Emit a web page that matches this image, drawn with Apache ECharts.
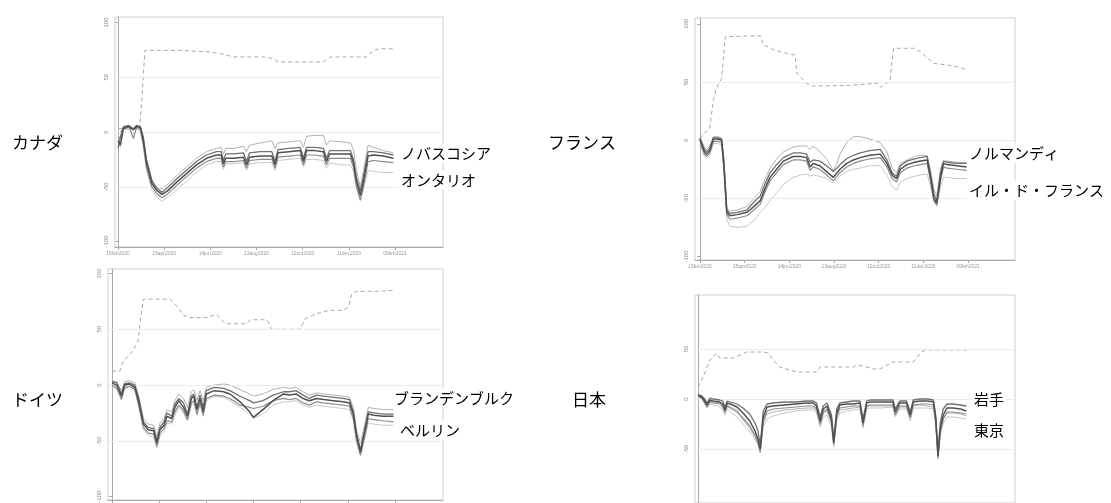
<!DOCTYPE html>
<html><head><meta charset="utf-8">
<script src="https://cdn.jsdelivr.net/npm/echarts@6/dist/echarts.min.js"></script>
<style>html,body{margin:0;padding:0;background:#fff}#c{width:1111px;height:503px}</style>
</head><body><div id="c"></div>
<script>
// ---- tick labels ----
const xTickValues = [0, 60, 120, 180, 240, 300, 360];
const xTickLabels = ['15feb2020', '15apr2020', '14jun2020', '13aug2020', '12oct2020', '11dec2020', '09feb2021'];
const yTickValues = [-100, -50, 0, 50, 100];
const yTickValuesJapan = [-50, 0, 50];
const gridLineValues = [-50, 0, 50];

// ---- Canada ----
const canDays = [0,3,7,14,20,24,29,33,37,44,50,57,64,76,89,102,115,128,134,137,140,150,163,167,171,185,200,204,208,222,237,241,245,256,267,271,275,290,302,306,310,315,319,325,332,345,358];
const can1 = [-8,-12,3,5,2,5,4,-8,-28,-47,-53,-57,-54,-46,-38,-30,-24,-21,-21,-29,-24,-24,-23,-30,-23,-22,-22,-30,-19,-18,-17,-27,-17,-17,-18,-27,-20,-20,-20,-28,-45,-58,-45,-22,-21,-22,-24];
const can2 = [-4,-6,4,6,-6,4,3,-12,-32,-50,-56,-60,-57,-49,-41,-33,-27,-24,-24,-32,-27,-27,-26,-33,-26,-25,-25,-33,-23,-22,-21,-30,-21,-21,-22,-30,-24,-24,-24,-32,-50,-62,-50,-27,-26,-27,-28];
const can3 = [-15,-5,5,6,3,6,5,-5,-25,-44,-51,-55,-51,-43,-35,-27,-21,-18,-18,-26,-20,-20,-19,-27,-19,-18,-18,-27,-16,-15,-14,-24,-14,-14,-15,-24,-17,-17,-17,-25,-42,-54,-41,-18,-18,-19,-21];
const can4 = [-2,0,4,4,3,4,2,-10,-30,-46,-50,-52,-48,-40,-32,-24,-18,-15,-14,-20,-15,-15,-13,-18,-12,-10,-8,-15,-10,-9,-8,-14,-4,-3,-3,-12,-8,-9,-10,-16,-35,-50,-35,-12,-14,-17,-19];
const can5 = [-10,-14,2,3,-2,3,1,-14,-35,-53,-59,-63,-60,-53,-45,-37,-30,-27,-27,-34,-29,-29,-28,-35,-29,-28,-28,-35,-26,-25,-24,-32,-25,-25,-26,-33,-28,-30,-30,-36,-52,-63,-52,-35,-36,-37,-37];
const canStrDays = [0,28,31,35,81,120,137,150,189,202,208,267,276,323,332,340,360];
const canStr = [3,3,30,74.5,74.5,73,71,68.5,68.5,67,64,64,68.5,68.5,74.5,76,76];

// ---- Germany ----
const gerDays = [0,6,12,16,22,29,34,40,46,53,57,61,66,70,76,80,85,91,96,101,104,108,112,116,120,130,142,150,163,175,180,192,205,218,226,234,243,251,260,269,282,294,302,307,311,316,322,326,333,345,358];
const ger1 = [2,0,-10,0,1,-2,-15,-35,-40,-41,-52,-40,-36,-28,-30,-20,-14,-20,-28,-12,-10,-22,-12,-24,-8,-5,-6,-8,-15,-24,-29,-22,-14,-8,-9,-8,-12,-14,-12,-13,-14,-15,-16,-26,-45,-60,-40,-26,-27,-28,-28];
const ger2 = [3,2,-8,1,2,0,-12,-33,-38,-39,-50,-38,-33,-25,-28,-17,-12,-16,-26,-10,-8,-20,-9,-20,-5,-2,-3,-5,-10,-14,-16,-14,-9,-6,-6,-5,-9,-12,-9,-10,-11,-12,-13,-24,-44,-58,-38,-24,-25,-26,-26];
const ger3 = [0,-3,-13,-3,-1,-4,-18,-38,-43,-44,-55,-43,-39,-32,-33,-24,-18,-23,-31,-16,-14,-26,-16,-27,-12,-9,-10,-12,-18,-20,-21,-19,-14,-12,-13,-12,-16,-18,-15,-16,-17,-18,-19,-30,-50,-63,-44,-30,-31,-32,-33];
const ger4 = [4,3,-5,3,4,2,-10,-30,-35,-36,-46,-34,-30,-22,-24,-14,-8,-12,-20,-6,-4,-14,-5,-14,-2,0,1,0,-4,-8,-10,-8,-4,-2,-3,-2,-6,-9,-7,-8,-9,-10,-11,-20,-40,-52,-33,-20,-21,-22,-22];
const ger5 = [1,-2,-12,-2,0,-3,-20,-40,-45,-47,-56,-46,-42,-34,-35,-27,-20,-25,-32,-18,-16,-27,-17,-28,-14,-10,-11,-14,-20,-26,-30,-26,-18,-15,-15,-14,-18,-20,-18,-19,-20,-21,-22,-32,-50,-62,-46,-34,-35,-36,-36];
const gerStrDays = [0,10,14,27,33,36,40,74,82,91,99,120,133,142,146,171,176,197,203,239,246,260,277,294,301,305,311,337,358];
const gerStr = [12.5,12.5,21,31,39,58,77,77,71,62.5,60.5,60.5,63.5,56.5,55,55,58.5,58.5,50,50,59.5,64,67,67,70,82,84,84,85];

// ---- France ----
const fraDays = [0,2,6,9,13,18,24,29,32,36,40,50,63,67,74,81,87,94,103,112,125,135,143,148,152,161,170,179,184,188,197,206,215,228,242,251,258,264,269,278,288,296,305,309,314,318,323,327,332,345,358];
const fra1 = [1,-3,-10,-12,-9,1,1,0,-20,-62,-65,-64,-62,-60,-56,-52,-42,-32,-25,-18,-14,-14,-15,-23,-20,-22,-27,-32,-28,-25,-20,-17,-15,-13,-12,-20,-30,-33,-25,-21,-19,-18,-17,-30,-50,-54,-32,-20,-21,-22,-23];
const fra2 = [2,-2,-8,-10,-7,2,2,1,-18,-60,-63,-62,-60,-57,-52,-48,-38,-28,-21,-15,-11,-11,-12,-19,-17,-18,-22,-27,-24,-21,-16,-13,-11,-9,-8,-17,-28,-31,-22,-18,-16,-15,-14,-27,-46,-52,-28,-18,-19,-20,-20];
const fra3 = [0,-5,-12,-14,-11,-1,-1,-2,-23,-64,-68,-67,-65,-63,-59,-55,-45,-35,-28,-21,-17,-17,-18,-26,-23,-25,-30,-35,-31,-28,-23,-20,-18,-16,-15,-23,-33,-36,-28,-24,-22,-21,-20,-33,-52,-56,-35,-23,-24,-25,-26];
const fra4 = [2,0,-6,-8,-5,3,3,2,-16,-58,-61,-60,-57,-54,-49,-44,-34,-24,-16,-10,-6,-5,-5,-8,-5,-10,-16,-26,-20,-12,-2,3,3,1,-2,-10,-24,-28,-20,-17,-14,-13,-13,-24,-42,-48,-24,-18,-18,-19,-19];
const fra5 = [-1,-6,-14,-16,-13,-3,-3,-4,-27,-68,-74,-75,-74,-72,-68,-62,-58,-52,-45,-38,-32,-30,-29,-31,-30,-31,-33,-37,-34,-31,-27,-25,-24,-22,-22,-30,-40,-43,-36,-33,-31,-30,-29,-38,-52,-56,-40,-32,-32,-33,-33];
const fraStrDays = [0,7,13,18,22,29,34,81,85,99,116,128,130,143,152,197,238,242,250,255,260,287,296,314,331,345,360];
const fraStr = [1.4,7,10,34.5,44.5,53,89,89.7,82,77.6,74.7,73,57.5,48.9,46.5,47,48.9,45.4,48.9,50,79,79,76,66,64.7,63,60.3];

// ---- Japan ----
const jpnDays = [0,5,9,12,16,20,29,33,36,39,43,52,60,69,76,80,83,87,92,100,115,130,145,154,158,163,167,172,178,181,185,189,198,207,216,220,225,229,245,260,263,269,278,283,287,296,306,314,317,320,323,327,332,340,350,358];
const jpn1 = [4,2,-2,-6,-1,-2,-3,-5,-11,-4,-5,-8,-14,-22,-32,-40,-50,-18,-8,-7,-6,-5,-4,-4,-7,-22,-10,-7,-20,-44,-14,-6,-5,-5,-4,-24,-4,-3,-3,-3,-13,-4,-4,-16,-3,-2,-2,-3,-20,-57,-30,-16,-9,-9,-10,-12];
const jpn2 = [4,3,0,-4,1,0,-1,-2,-8,-2,-3,-5,-9,-15,-24,-32,-46,-12,-5,-4,-3,-3,-2,-2,-4,-18,-7,-4,-16,-40,-10,-4,-3,-2,-2,-20,-2,-1,-1,-1,-10,-2,-2,-13,-1,0,0,-1,-16,-54,-24,-10,-5,-5,-6,-7];
const jpn3 = [3,1,-4,-8,-3,-4,-5,-7,-13,-7,-9,-13,-19,-27,-36,-44,-53,-22,-12,-10,-9,-8,-7,-7,-10,-25,-13,-10,-24,-46,-17,-9,-8,-7,-7,-27,-7,-6,-6,-6,-16,-7,-7,-19,-6,-5,-5,-6,-23,-59,-34,-20,-13,-13,-14,-15];
const jpn4 = [2,0,-5,-9,-5,-6,-8,-11,-16,-10,-13,-18,-25,-33,-40,-46,-54,-28,-20,-17,-14,-12,-11,-11,-14,-28,-18,-16,-28,-48,-22,-14,-12,-11,-10,-29,-10,-9,-9,-8,-18,-10,-10,-22,-9,-9,-9,-10,-26,-60,-36,-24,-18,-18,-19,-20];
const jpn5 = [3,1,-3,-7,-2,-3,-4,-9,-14,-6,-8,-11,-21,-29,-38,-43,-48,-24,-15,-13,-11,-10,-9,-9,-12,-26,-15,-12,-22,-42,-19,-11,-10,-9,-8,-26,-8,-7,-7,-7,-15,-8,-8,-18,-7,-6,-7,-8,-22,-55,-32,-20,-14,-14,-15,-17];
const jpnStrDays = [0,3,9,16,25,29,47,56,65,87,94,100,109,118,132,158,163,207,212,225,234,243,252,260,287,292,300,305,360];
const jpnStr = [12,16,26,39,46,41,41,44,47,47,46,39,32,30,27,27,32,32,34,32,30,30,34,37,37,42,48,49,49];

// ---- labels ----
const countryNames = ['カナダ', 'ドイツ', 'フランス', '日本'];
const regionNames = [['ノバスコシア', 'オンタリオ'], ['ブランデンブルク', 'ベルリン'], ['ノルマンディ', 'イル・ド・フランス'], ['岩手', '東京']];

// ---- layout / styling (not data) ----
const panels = [
  { grid: { left: 115, top: 17, width: 328, height: 230 }, xmin: -3.9, xmax: 422.4, ymin: -105, ymax: 105, yTicks: yTickValues,
    days: canDays, lines: [can5, can4, can2, can3, can1], sDays: canStrDays, s: canStr,
    country: { x: 12, y: 143 }, regions: [{ x: 399, y: 153 }, { x: 399, y: 180 }] },
  { grid: { left: 108, top: 269, width: 335, height: 231 }, xmin: -5.1, xmax: 421, ymin: -103, ymax: 104, yTicks: yTickValues,
    days: gerDays, lines: [ger5, ger4, ger3, ger2, ger1], sDays: gerStrDays, s: gerStr,
    country: { x: 12, y: 400 }, regions: [{ x: 392, y: 398 }, { x: 398, y: 430 }] },
  { grid: { left: 695, top: 18, width: 320, height: 242 }, xmin: -6.7, xmax: 423, ymin: -103, ymax: 105, yTicks: yTickValues,
    days: fraDays, lines: [fra5, fra4, fra3, fra2, fra1], sDays: fraStrDays, s: fraStr,
    country: { x: 548, y: 143 }, regions: [{ x: 967, y: 153 }, { x: 967, y: 190 }] },
  { grid: { left: 695, top: 295, width: 320, height: 208 }, xmin: -4, xmax: 422.7, ymin: -104, ymax: 104, yTicks: yTickValuesJapan,
    days: jpnDays, lines: [jpn4, jpn5, jpn3, jpn2, jpn1], sDays: jpnStrDays, s: jpnStr,
    country: { x: 572, y: 400 }, regions: [{ x: 972, y: 399 }, { x: 972, y: 430 }] }
];
const lineColors = ['#c8c8c8', '#b2b2b2', '#8c8c8c', '#707070', '#4f4f4f'];
const lineWidths = [1, 1, 1.2, 1.3, 1.5];
const FONT = '"Noto Sans CJK JP", "Noto Sans", sans-serif';

function pairs(xs, ys) { return xs.map((d, i) => [d, ys[i]]); }

const grids = [], xAxes = [], yAxes = [], series = [], graphics = [];
panels.forEach((p, i) => {
  grids.push(Object.assign({ show: true, borderColor: '#cfcfcf', borderWidth: 1, backgroundColor: '#fff',
    containLabel: false, outerBoundsMode: 'none' }, p.grid));
  xAxes.push({
    type: 'value', gridIndex: i, min: p.xmin, max: p.xmax,
    axisLine: { show: true, onZero: false, lineStyle: { color: '#a9a9a9', width: 1 } },
    axisTick: { show: true, length: 3, customValues: xTickValues, lineStyle: { color: '#a9a9a9' } },
    axisLabel: { customValues: xTickValues, fontSize: 5, color: '#9a9a9a', margin: 4,
      formatter: v => xTickLabels[xTickValues.indexOf(Math.round(v))] || '' },
    splitLine: { show: false }
  });
  yAxes.push({
    type: 'value', gridIndex: i, min: p.ymin, max: p.ymax,
    axisLine: { show: true, lineStyle: { color: '#a9a9a9', width: 1 } },
    axisTick: { show: true, length: 3, customValues: p.yTicks, lineStyle: { color: '#a9a9a9' } },
    axisLabel: { customValues: p.yTicks, rotate: 90, fontSize: 6, color: '#8a8a8a', margin: 6 },
    splitLine: { show: false }
  });
  series.push({
    type: 'line', xAxisIndex: i, yAxisIndex: i, data: pairs(p.sDays, p.s), showSymbol: false, silent: true,
    lineStyle: { color: '#a8a8a8', width: 1, type: [4, 3] }, z: 2,
    markLine: { silent: true, symbol: 'none', label: { show: false },
      lineStyle: { color: '#ececec', width: 1, type: 'solid' },
      data: gridLineValues.map(v => ({ yAxis: v })) }
  });
  p.lines.forEach((vals, k) => {
    series.push({
      type: 'line', xAxisIndex: i, yAxisIndex: i, data: pairs(p.days, vals), showSymbol: false, silent: true,
      lineStyle: { color: lineColors[k], width: lineWidths[k] }, z: 3 + k
    });
  });
  graphics.push({ type: 'text', x: p.country.x, y: p.country.y, z: 100,
    style: { text: countryNames[i], font: '17px ' + FONT, fill: '#000', align: 'left', verticalAlign: 'middle' } });
  p.regions.forEach((r, k) => {
    graphics.push({ type: 'text', x: r.x, y: r.y, z: 100,
      style: { text: regionNames[i][k], font: '15px ' + FONT, fill: '#000', align: 'left', verticalAlign: 'middle',
        backgroundColor: '#fff', padding: [2, 2, 2, 2] } });
  });
});

const chart = echarts.init(document.getElementById('c'), null, { renderer: 'canvas' });
chart.setOption({
  animation: false,
  backgroundColor: '#fff',
  grid: grids, xAxis: xAxes, yAxis: yAxes, series: series,
  graphic: graphics
});
</script></body></html>
